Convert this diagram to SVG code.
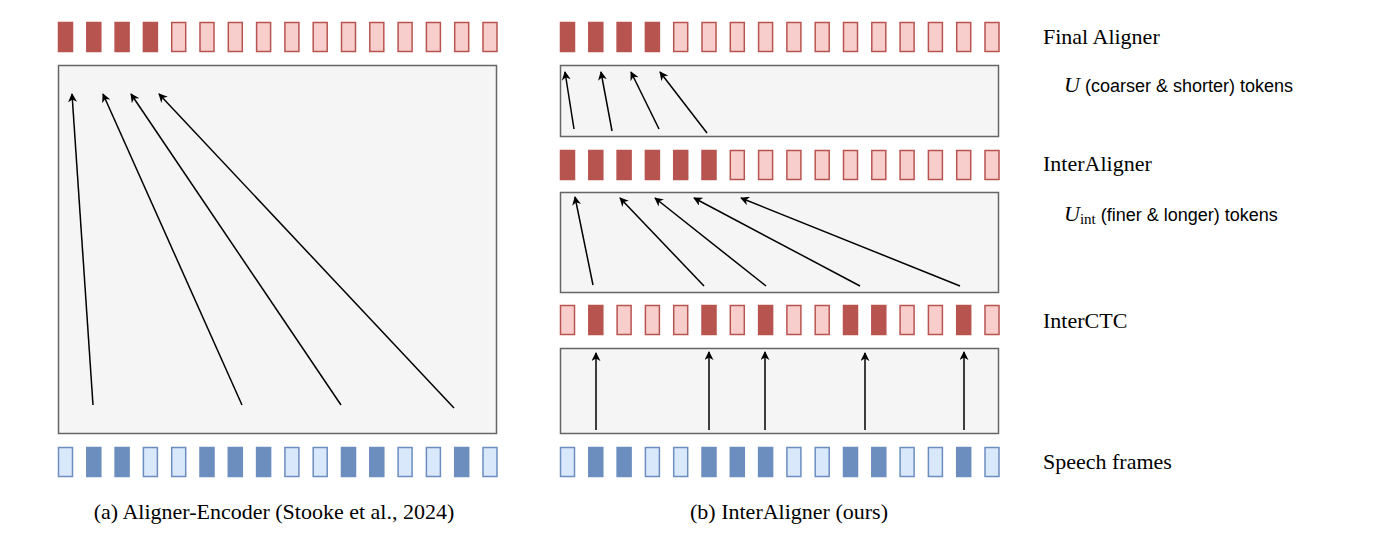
<svg xmlns="http://www.w3.org/2000/svg" width="1400" height="550" viewBox="0 0 1400 550">
<style>
.rd{fill:#b85450;stroke:#b85450;stroke-width:1.5}
.rl{fill:#f8cecc;stroke:#b85450;stroke-width:1.5}
.bd{fill:#6c8ebf;stroke:#6c8ebf;stroke-width:1.5}
.bl{fill:#dae8fc;stroke:#6c8ebf;stroke-width:1.5}
.box{fill:#f5f5f5;stroke:#666;stroke-width:1.5}
.ar{stroke:#000;stroke-width:1.5;fill:none;marker-end:url(#ah)}
.s{font-family:"Liberation Serif",serif;font-size:22px;fill:#000}
.ss{font-family:"Liberation Sans",sans-serif;font-size:18px;fill:#000}
</style>
<defs>
<marker id="ah" viewBox="0 0 10 10" refX="9" refY="5" markerWidth="9" markerHeight="9" markerUnits="userSpaceOnUse" orient="auto"><path d="M0,0 L10,5 L0,10 L3,5 Z" fill="#000"/></marker>
<g id="sp">
<rect class="bl" x="0" y="0" width="14" height="29"/><rect class="bd" x="28.3" y="0" width="14" height="29"/><rect class="bd" x="56.6" y="0" width="14" height="29"/><rect class="bl" x="84.9" y="0" width="14" height="29"/><rect class="bl" x="113.2" y="0" width="14" height="29"/><rect class="bd" x="141.5" y="0" width="14" height="29"/><rect class="bd" x="169.8" y="0" width="14" height="29"/><rect class="bd" x="198.1" y="0" width="14" height="29"/><rect class="bl" x="226.4" y="0" width="14" height="29"/><rect class="bl" x="254.7" y="0" width="14" height="29"/><rect class="bd" x="283" y="0" width="14" height="29"/><rect class="bd" x="311.3" y="0" width="14" height="29"/><rect class="bl" x="339.6" y="0" width="14" height="29"/><rect class="bl" x="367.9" y="0" width="14" height="29"/><rect class="bd" x="396.2" y="0" width="14" height="29"/><rect class="bl" x="424.5" y="0" width="14" height="29"/>
</g>
<g id="fin">
<rect class="rd" x="0" y="0" width="14" height="29"/><rect class="rd" x="28.3" y="0" width="14" height="29"/><rect class="rd" x="56.6" y="0" width="14" height="29"/><rect class="rd" x="84.9" y="0" width="14" height="29"/><rect class="rl" x="113.2" y="0" width="14" height="29"/><rect class="rl" x="141.5" y="0" width="14" height="29"/><rect class="rl" x="169.8" y="0" width="14" height="29"/><rect class="rl" x="198.1" y="0" width="14" height="29"/><rect class="rl" x="226.4" y="0" width="14" height="29"/><rect class="rl" x="254.7" y="0" width="14" height="29"/><rect class="rl" x="283" y="0" width="14" height="29"/><rect class="rl" x="311.3" y="0" width="14" height="29"/><rect class="rl" x="339.6" y="0" width="14" height="29"/><rect class="rl" x="367.9" y="0" width="14" height="29"/><rect class="rl" x="396.2" y="0" width="14" height="29"/><rect class="rl" x="424.5" y="0" width="14" height="29"/>
</g>
</defs>
<g id="left">
<use href="#fin" x="58.5" y="22.5"/>
<rect class="box" x="58.5" y="65.5" width="438" height="368"/>
<use href="#sp" x="58.5" y="447.5"/>
</g>
<g id="right">
<use href="#fin" x="560.5" y="22.5"/>
<rect class="box" x="560.5" y="65.5" width="438" height="71"/>
<g id="inter-row" transform="translate(560.5,150.5)">
<rect class="rd" x="0" y="0" width="14" height="29"/><rect class="rd" x="28.3" y="0" width="14" height="29"/><rect class="rd" x="56.6" y="0" width="14" height="29"/><rect class="rd" x="84.9" y="0" width="14" height="29"/><rect class="rd" x="113.2" y="0" width="14" height="29"/><rect class="rd" x="141.5" y="0" width="14" height="29"/><rect class="rl" x="169.8" y="0" width="14" height="29"/><rect class="rl" x="198.1" y="0" width="14" height="29"/><rect class="rl" x="226.4" y="0" width="14" height="29"/><rect class="rl" x="254.7" y="0" width="14" height="29"/><rect class="rl" x="283" y="0" width="14" height="29"/><rect class="rl" x="311.3" y="0" width="14" height="29"/><rect class="rl" x="339.6" y="0" width="14" height="29"/><rect class="rl" x="367.9" y="0" width="14" height="29"/><rect class="rl" x="396.2" y="0" width="14" height="29"/><rect class="rl" x="424.5" y="0" width="14" height="29"/>
</g>
<rect class="box" x="560.5" y="192.5" width="438" height="100"/>
<g id="ctc-row" transform="translate(560.5,305.5)">
<rect class="rl" x="0" y="0" width="14" height="29"/><rect class="rd" x="28.3" y="0" width="14" height="29"/><rect class="rl" x="56.6" y="0" width="14" height="29"/><rect class="rl" x="84.9" y="0" width="14" height="29"/><rect class="rl" x="113.2" y="0" width="14" height="29"/><rect class="rd" x="141.5" y="0" width="14" height="29"/><rect class="rl" x="169.8" y="0" width="14" height="29"/><rect class="rd" x="198.1" y="0" width="14" height="29"/><rect class="rl" x="226.4" y="0" width="14" height="29"/><rect class="rl" x="254.7" y="0" width="14" height="29"/><rect class="rd" x="283" y="0" width="14" height="29"/><rect class="rd" x="311.3" y="0" width="14" height="29"/><rect class="rl" x="339.6" y="0" width="14" height="29"/><rect class="rl" x="367.9" y="0" width="14" height="29"/><rect class="rd" x="396.2" y="0" width="14" height="29"/><rect class="rl" x="424.5" y="0" width="14" height="29"/>
</g>
<rect class="box" x="560.5" y="348.5" width="438" height="85"/>
<use href="#sp" x="560.5" y="447.5"/>
</g>
<g id="connectors">
<line class="ar" x1="93" y1="405" x2="72" y2="94"/>
<line class="ar" x1="242" y1="405" x2="103" y2="94"/>
<line class="ar" x1="341" y1="405" x2="131" y2="94"/>
<line class="ar" x1="454" y1="408" x2="159" y2="94"/>
<line class="ar" x1="574" y1="129" x2="565" y2="72"/>
<line class="ar" x1="612" y1="131" x2="601" y2="72"/>
<line class="ar" x1="659" y1="129" x2="631" y2="72"/>
<line class="ar" x1="707" y1="133" x2="660" y2="72"/>
<line class="ar" x1="593" y1="285" x2="575" y2="197"/>
<line class="ar" x1="704" y1="286" x2="620" y2="198"/>
<line class="ar" x1="766" y1="286" x2="655" y2="198"/>
<line class="ar" x1="860" y1="286" x2="694" y2="198"/>
<line class="ar" x1="960" y1="286" x2="741" y2="198"/>
<line class="ar" x1="596" y1="430" x2="596" y2="353"/>
<line class="ar" x1="709" y1="430" x2="709" y2="352"/>
<line class="ar" x1="765" y1="430" x2="765" y2="352"/>
<line class="ar" x1="865" y1="430" x2="865" y2="353"/>
<line class="ar" x1="964" y1="430" x2="964" y2="352"/>
</g>
<g id="labels">
<text class="s" x="1043" y="44">Final Aligner</text>
<text class="ss" x="1064" y="92"><tspan class="s" font-style="italic">U</tspan> (coarser &amp; shorter) tokens</text>
<text class="s" x="1043" y="171">InterAligner</text>
<text class="ss" x="1064" y="221"><tspan class="s" font-style="italic">U</tspan><tspan font-family="Liberation Serif,serif" font-size="15" dy="3">int</tspan><tspan dy="-3"> (finer &amp; longer) tokens</tspan></text>
<text class="s" x="1043" y="328">InterCTC</text>
<text class="s" x="1043" y="469">Speech frames</text>
<text class="s" x="274" y="519" text-anchor="middle">(a) Aligner-Encoder (Stooke et al., 2024)</text>
<text class="s" x="789" y="519" text-anchor="middle">(b) InterAligner (ours)</text>
</g>
</svg>
